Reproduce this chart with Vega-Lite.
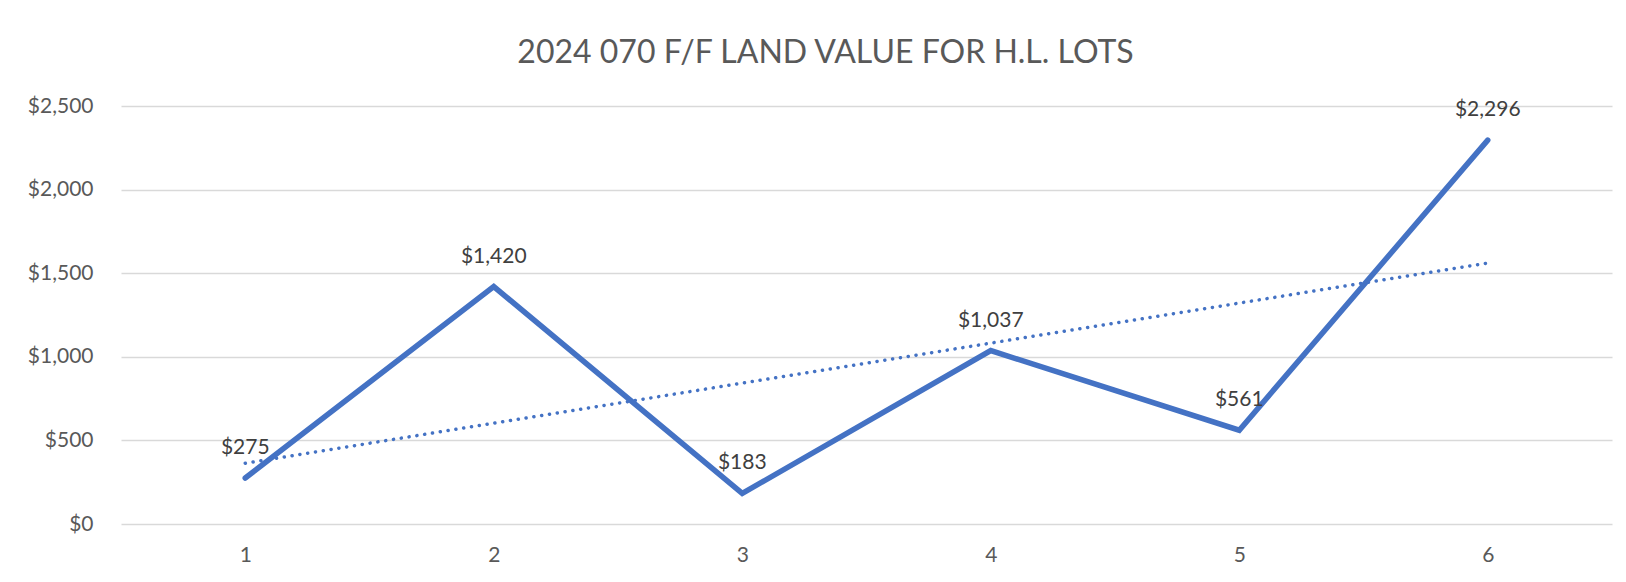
{
  "$schema": "https://vega.github.io/schema/vega-lite/v6.json",
  "width": 1491,
  "height": 418,
  "autosize": {"type": "none"},
  "padding": {"left": 121, "top": 106, "right": 14, "bottom": 58},
  "background": "white",
  "title": {
    "text": "2024 070 F/F LAND VALUE FOR H.L. LOTS",
    "font": "Lato",
    "fontSize": 32,
    "fontWeight": "normal",
    "color": "#595959",
    "anchor": "middle",
    "frame": "group",
    "offset": 25,
    "dx": -41
  },
  "config": {
    "view": {"stroke": null},
    "axis": {
      "labelFont": "Lato",
      "labelFontSize": 21,
      "labelColor": "#595959",
      "domain": false,
      "ticks": false,
      "title": null
    }
  },
  "data": {
    "values": [
      {"lot": 1, "value": 275},
      {"lot": 2, "value": 1420},
      {"lot": 3, "value": 183},
      {"lot": 4, "value": 1037},
      {"lot": 5, "value": 561},
      {"lot": 6, "value": 2296}
    ]
  },
  "encoding": {
    "x": {
      "field": "lot",
      "type": "quantitative",
      "scale": {"domain": [0.5, 6.5], "nice": false, "zero": false},
      "axis": {"values": [1, 2, 3, 4, 5, 6], "format": "d", "grid": false, "labelPadding": 20}
    },
    "y": {
      "field": "value",
      "type": "quantitative",
      "scale": {"domain": [0, 2500], "nice": false},
      "axis": {
        "values": [0, 500, 1000, 1500, 2000, 2500],
        "format": "$,.0f",
        "grid": true,
        "gridColor": "#d9d9d9",
        "gridWidth": 1.5,
        "labelPadding": 28
      }
    }
  },
  "layer": [
    {
      "mark": {"type": "line", "color": "#4472C4", "strokeWidth": 5.5, "strokeCap": "round", "strokeJoin": "miter"}
    },
    {
      "transform": [{"regression": "value", "on": "lot"}],
      "mark": {"type": "line", "color": "#4472C4", "strokeWidth": 3.5, "strokeCap": "round", "strokeDash": [0.1, 7.8]}
    },
    {
      "mark": {"type": "text", "font": "Lato", "fontSize": 21, "color": "#404040", "baseline": "alphabetic", "dy": -24},
      "encoding": {
        "text": {"field": "value", "type": "quantitative", "format": "$,.0f"}
      }
    }
  ]
}
